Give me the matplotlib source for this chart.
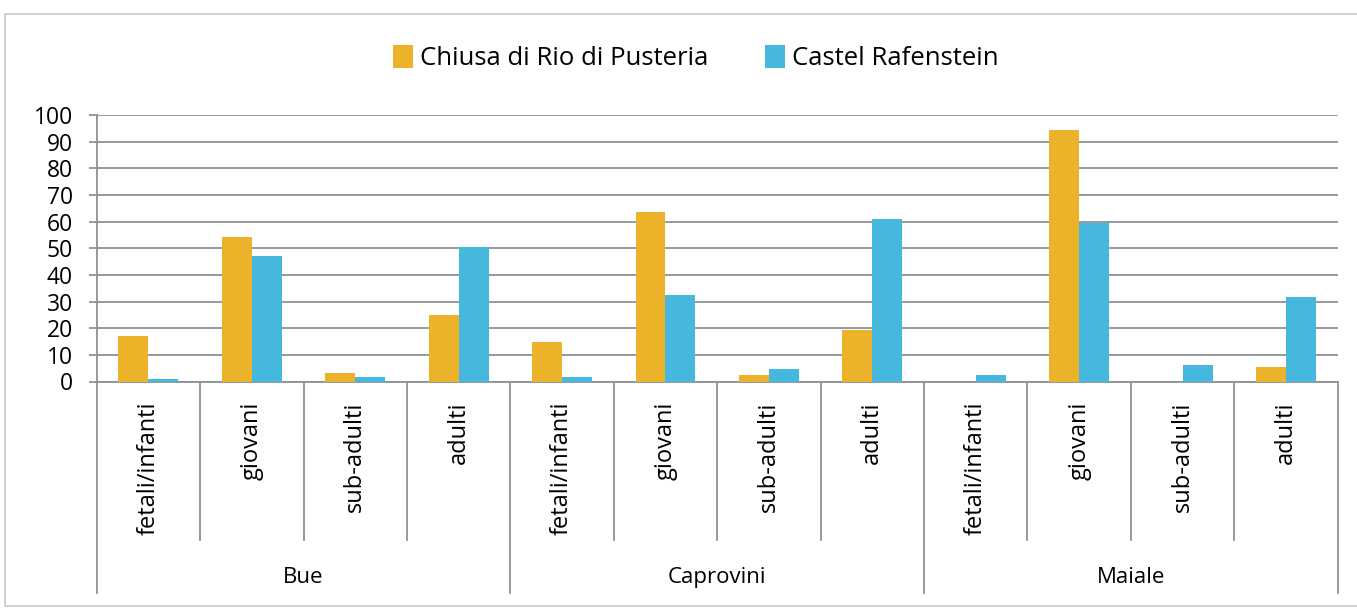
import matplotlib.pyplot as plt
import numpy as np
from matplotlib.patches import Rectangle

# Dati: percentuali per classe d'età
specie = ['Bue', 'Caprovini', 'Maiale']
classi = ['fetali/infanti', 'giovani', 'sub-adulti', 'adulti']
chiusa = [17.0, 54.2, 3.1, 24.8,
          14.8, 63.5, 2.4, 19.5,
          0.0, 94.2, 0.0, 5.4]
castel = [0.9, 47.2, 1.6, 50.3,
          1.6, 32.5, 4.8, 61.1,
          2.4, 59.6, 6.3, 31.7]
serie = ['Chiusa di Rio di Pusteria', 'Castel Rafenstein']
y_ticks = list(range(0, 101, 10))

col_chiusa = '#EBB22A'
col_castel = '#46B7DD'
grid_col = '#8E9196'

plt.rcParams['font.family'] = ['Open Sans', 'DejaVu Sans']

fig = plt.figure(figsize=(13.57, 6.09), dpi=100)
W, H = 1357, 609

# cornice esterna del grafico
fig.patches.append(Rectangle((5 / W, 1 - 606 / H), 1400 / W, 592 / H, transform=fig.transFigure,
                             fill=False, edgecolor='#C8C8C8', linewidth=1.2))

ax = fig.add_axes([96.7 / W, 1 - 381.5 / H, 1241 / W, 266.5 / H])

n = len(chiusa)
x = np.arange(n)
bw = 0.29
b1 = ax.bar(x - bw / 2, chiusa, bw, color=col_chiusa, label=serie[0], zorder=3)
b2 = ax.bar(x + bw / 2, castel, bw, color=col_castel, label=serie[1], zorder=3)

ax.set_xlim(-0.5, n - 0.5)
ax.set_ylim(0, 100)
ax.set_yticks(y_ticks)
ax.tick_params(axis='y', labelsize=16.5, length=6, width=1.3, color=grid_col, pad=11)
ax.yaxis.grid(True, color=grid_col, linewidth=1.3, zorder=0)
ax.set_axisbelow(True)
for s in ['top', 'right']:
    ax.spines[s].set_visible(False)
ax.spines['left'].set_color(grid_col)
ax.spines['left'].set_linewidth(1.3)
ax.spines['bottom'].set_color(grid_col)
ax.spines['bottom'].set_linewidth(1.3)
ax.set_xticks([])

# asse delle categorie a due livelli
tr = ax.get_xaxis_transform()
for i in range(n + 1):
    xb = i - 0.5
    y_end = -0.795 if i % 4 == 0 else -0.595
    ax.plot([xb, xb], [0, y_end], transform=tr, color=grid_col, linewidth=1.3, clip_on=False)
for i in range(n):
    ax.text(i, -0.075, classi[i % 4], transform=tr, rotation=90, ha='center', va='top', fontsize=17)
for g, nome in enumerate(specie):
    ax.text(g * 4 + 1.5, -0.737, nome, transform=tr, ha='center', va='center', fontsize=16)

fig.legend(handles=[b1, b2], labels=serie, loc='center', bbox_to_anchor=(0.513, 1 - 58 / H),
           ncol=2, frameon=False, fontsize=18.5, handlelength=0.75, handleheight=1.0,
           handletextpad=0.3, columnspacing=2.2)

fig.savefig('out.png', dpi=100)
